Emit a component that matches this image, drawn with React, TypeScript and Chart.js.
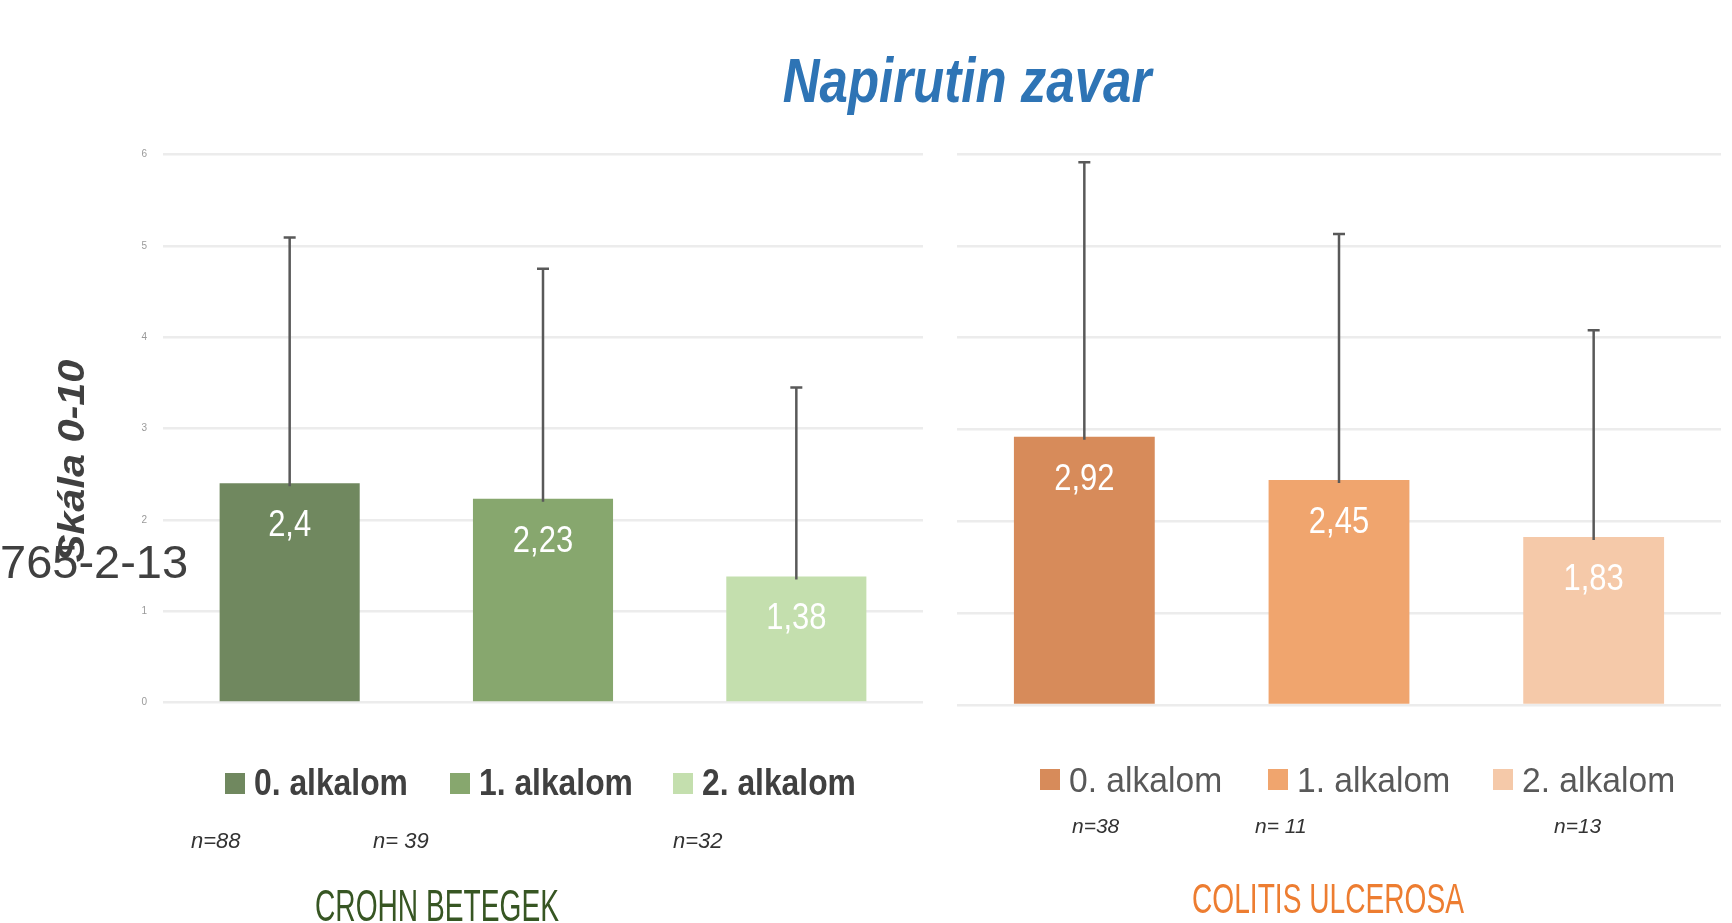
import React, { useEffect, useRef } from "react";
import { Chart, registerables } from "chart.js";
Chart.register(...registerables);

const W = 1732;
const H = 923;
const FAMILY = "'Liberation Sans', Arial, sans-serif";

// ---------- data ----------
const CHART_TITLE = "Napirutin zavar";
const Y_AXIS_TITLE = "Skála 0-10";
const STRAY_LABEL = "765-2-13";
const VISITS = ["0. alkalom", "1. alkalom", "2. alkalom"];
const Y_MIN = 0;
const Y_MAX = 6;
const Y_STEP = 1;

const CROHN_TITLE = "CROHN BETEGEK";
const CROHN_MEAN = [2.4, 2.23, 1.38];
const CROHN_SD = [2.69, 2.52, 2.07];
const CROHN_N = ["n=88", "n= 39", "n=32"];

const UC_TITLE = "COLITIS ULCEROSA";
const UC_MEAN = [2.92, 2.45, 1.83];
const UC_SD = [2.99, 2.68, 2.25];
const UC_N = ["n=38", "n= 11", "n=13"];

const CROHN_COLORS = ["#70885f", "#87a76e", "#c4dfae"];
const UC_COLORS = ["#d78b5a", "#f0a56e", "#f5c9a9"];

// ---------- helpers ----------
function txt(
  ctx: CanvasRenderingContext2D,
  s: string,
  x: number,
  y: number,
  font: string,
  color: string,
  sx = 1,
  align: CanvasTextAlign = "left",
  baseline: CanvasTextBaseline = "alphabetic",
  rot = 0
) {
  ctx.save();
  ctx.translate(x, y);
  if (rot) ctx.rotate(rot);
  ctx.scale(sx, 1);
  ctx.font = font;
  ctx.fillStyle = color;
  ctx.textAlign = align;
  ctx.textBaseline = baseline;
  ctx.fillText(s, 0, 0);
  ctx.restore();
}

type Panel = {
  key: string;
  means: number[];
  sds: number[];
  colors: string[];
  ns: string[];
  nX: number[];
  nY: number;
  nFont: string;
  legendX: number[];
  legendBoxY: number;
  legendTextY: number;
  legendFont: string;
  legendColor: string;
  legendSx: number;
  title: string;
  titleX: number;
  titleY: number;
  titleFont: string;
  titleColor: string;
  titleSx: number;
  area: { left: number; right: number; top: number; bottom: number };
  showTicks: boolean;
  drawGlobal: boolean;
};

const LEFT: Panel = {
  key: "crohn",
  means: CROHN_MEAN,
  sds: CROHN_SD,
  colors: CROHN_COLORS,
  ns: CROHN_N,
  nX: [191, 373, 673],
  nY: 848,
  nFont: `italic 22px ${FAMILY}`,
  legendX: [225, 450, 673],
  legendBoxY: 773,
  legendTextY: 795,
  legendFont: `bold 37px ${FAMILY}`,
  legendColor: "#404040",
  legendSx: 0.86,
  title: CROHN_TITLE,
  titleX: 437,
  titleY: 921,
  titleFont: `44px ${FAMILY}`,
  titleColor: "#375623",
  titleSx: 0.64,
  area: { left: 163, right: 923, top: 154.5, bottom: 702.5 },
  showTicks: true,
  drawGlobal: true,
};

const RIGHT: Panel = {
  key: "uc",
  means: UC_MEAN,
  sds: UC_SD,
  colors: UC_COLORS,
  ns: UC_N,
  nX: [1072, 1255, 1554],
  nY: 833,
  nFont: `italic 21px ${FAMILY}`,
  legendX: [1040, 1268, 1493],
  legendBoxY: 769,
  legendTextY: 792,
  legendFont: `35px ${FAMILY}`,
  legendColor: "#595959",
  legendSx: 0.96,
  title: UC_TITLE,
  titleX: 1328,
  titleY: 913,
  titleFont: `42px ${FAMILY}`,
  titleColor: "#ED7D31",
  titleSx: 0.67,
  area: { left: 957, right: 1721, top: 154, bottom: 705 },
  showTicks: false,
  drawGlobal: false,
};

function makePlugin(p: Panel) {
  return {
    id: "panelDecor_" + p.key,
    afterDatasetsDraw(chart: any) {
      const ctx: CanvasRenderingContext2D = chart.ctx;
      const meta = chart.getDatasetMeta(0);
      const yScale = chart.scales.y;
      meta.data.forEach((el: any, i: number) => {
        const x = el.x;
        const top = el.y;
        const errTop = yScale.getPixelForValue(p.means[i] + p.sds[i]);
        ctx.save();
        ctx.strokeStyle = "#595959";
        ctx.lineWidth = 2.5;
        ctx.beginPath();
        ctx.moveTo(x, top + 3);
        ctx.lineTo(x, errTop);
        ctx.moveTo(x - 6, errTop);
        ctx.lineTo(x + 6, errTop);
        ctx.stroke();
        ctx.restore();
        const label = String(p.means[i]).replace(".", ",");
        txt(ctx, label, x, top + 53, `36px ${FAMILY}`, "#ffffff", 0.86, "center");
      });
    },
    afterDraw(chart: any) {
      const ctx: CanvasRenderingContext2D = chart.ctx;
      // legend
      VISITS.forEach((v, i) => {
        ctx.fillStyle = p.colors[i];
        ctx.fillRect(p.legendX[i], p.legendBoxY, 20, 21);
        txt(ctx, v, p.legendX[i] + 29, p.legendTextY, p.legendFont, p.legendColor, p.legendSx);
      });
      // n labels
      p.ns.forEach((n, i) => {
        txt(ctx, n, p.nX[i], p.nY, p.nFont, "#333333", 1);
      });
      // group title
      txt(ctx, p.title, p.titleX, p.titleY, p.titleFont, p.titleColor, p.titleSx, "center");
      if (p.drawGlobal) {
        txt(ctx, CHART_TITLE, 967, 102, `italic bold 63px ${FAMILY}`, "#2E74B5", 0.81, "center");
        txt(ctx, Y_AXIS_TITLE, 74, 461, `italic bold 36px ${FAMILY}`, "#404040", 1.15, "center", "middle", -Math.PI / 2);
        txt(ctx, STRAY_LABEL, 0, 578, `47px ${FAMILY}`, "#404040", 1);
      }
    },
  };
}

function PanelChart({ panel }: { panel: Panel }) {
  const ref = useRef<HTMLCanvasElement | null>(null);
  useEffect(() => {
    if (!ref.current) return;
    const a = panel.area;
    const chart = new Chart(ref.current, {
      type: "bar",
      data: {
        labels: VISITS,
        datasets: [
          {
            data: panel.means,
            backgroundColor: panel.colors,
            borderWidth: 0,
            categoryPercentage: 1,
            barPercentage: 0.553,
          },
        ],
      },
      options: {
        responsive: false,
        animation: false,
        devicePixelRatio: 1,
        layout: {
          padding: { left: 0, right: W - a.right, top: a.top, bottom: H - a.bottom },
        },
        plugins: {
          legend: { display: false },
          tooltip: { enabled: false },
          title: { display: false },
        },
        scales: {
          x: { display: false },
          y: {
            min: Y_MIN,
            max: Y_MAX,
            ticks: {
              display: panel.showTicks,
              stepSize: Y_STEP,
              padding: 16,
              color: "#9a9a9a",
              font: { size: 10, family: FAMILY },
            },
            grid: { color: "#ececec", lineWidth: 2.5, drawTicks: false },
            border: { display: false },
            afterFit: (s: any) => {
              s.width = a.left;
            },
          },
        },
      } as any,
      plugins: [makePlugin(panel)],
    });
    return () => chart.destroy();
  }, [panel]);
  return (
    <canvas
      ref={ref}
      width={W}
      height={H}
      style={{ position: "absolute", left: 0, top: 0, width: W, height: H }}
    />
  );
}

export default function App() {
  return (
    <div
      style={{
        position: "fixed",
        left: 0,
        top: 0,
        width: W,
        height: H,
        background: "#ffffff",
        overflow: "hidden",
      }}
    >
      <PanelChart panel={LEFT} />
      <PanelChart panel={RIGHT} />
    </div>
  );
}
